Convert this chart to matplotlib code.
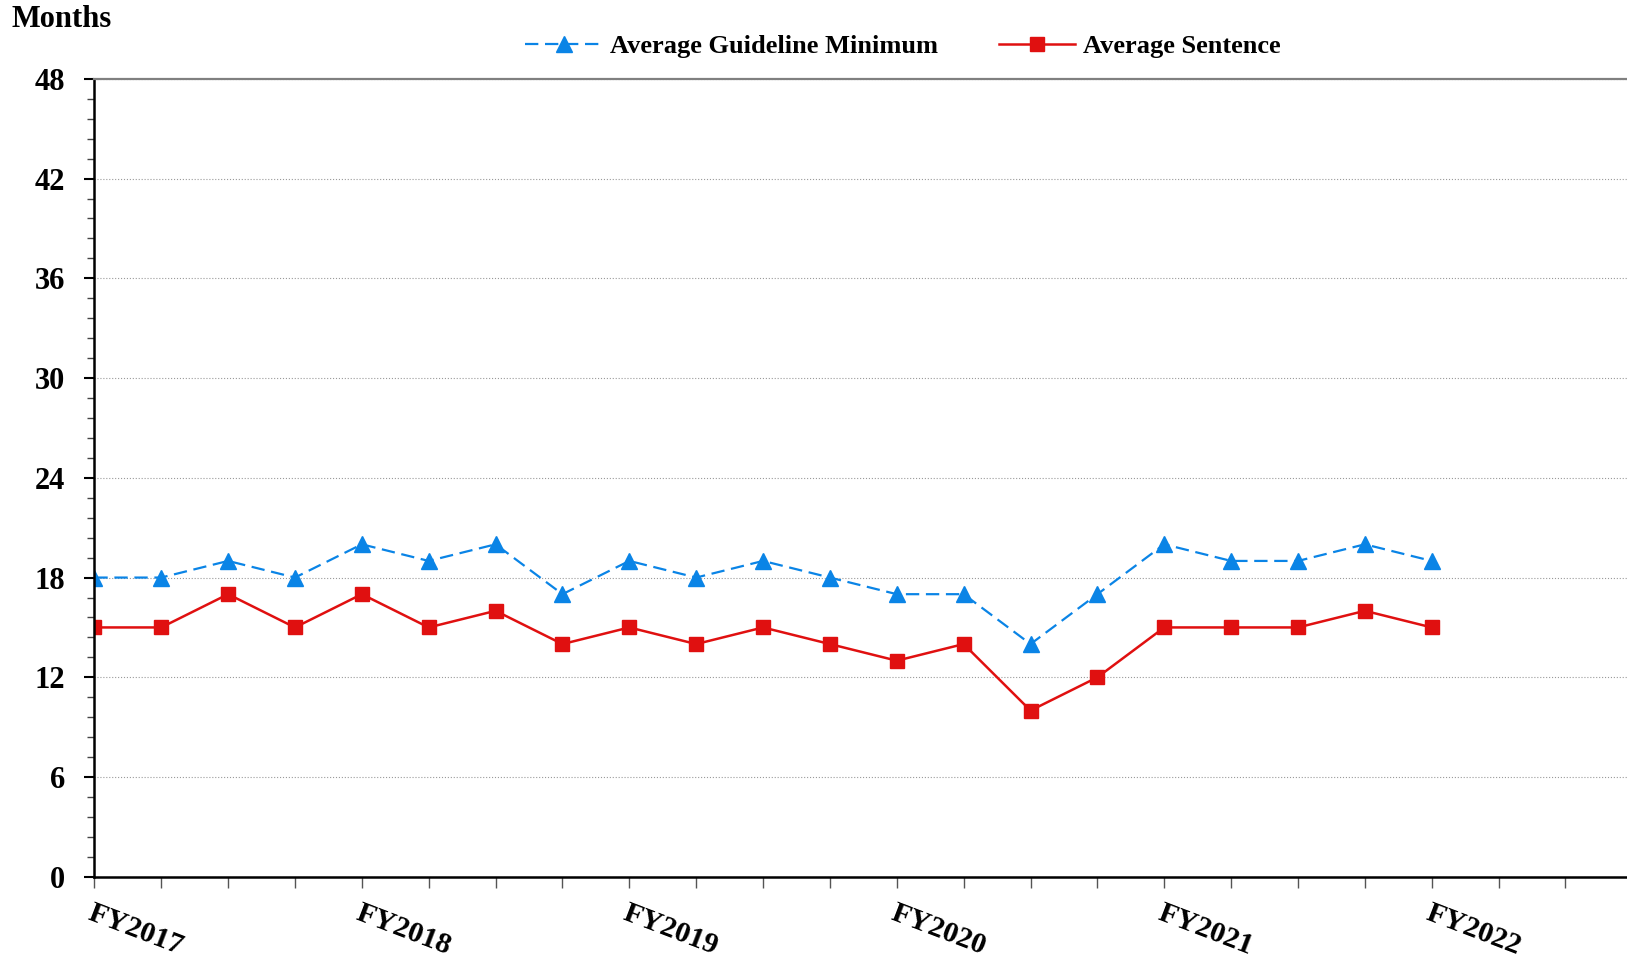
import matplotlib.pyplot as plt
from matplotlib.ticker import MultipleLocator

# quarterly averages, FY2017 Q1 .. FY2022 Q1
quarters = list(range(21))
guideline_min = [18, 18, 19, 18, 20, 19, 20, 17, 19, 18, 19, 18, 17, 17, 14, 17, 20, 19, 19, 20, 19]
avg_sentence = [15, 15, 17, 15, 17, 15, 16, 14, 15, 14, 15, 14, 13, 14, 10, 12, 15, 15, 15, 16, 15]
year_labels = ["FY2017", "FY2018", "FY2019", "FY2020", "FY2021", "FY2022"]
y_ticks = [0, 6, 12, 18, 24, 30, 36, 42, 48]

plt.rcParams['font.family'] = ['Liberation Serif', 'DejaVu Serif']
plt.rcParams['font.weight'] = 'bold'

fig = plt.figure(figsize=(16.27, 9.61), dpi=100)
ax = fig.add_axes([0.058, 0.0876, 0.942, 0.8304])

ax.plot(quarters, guideline_min, color='#0a84e6', lw=1.6, ls=(0, (6, 3)),
        marker='^', ms=12, label='Average Guideline Minimum')
ax.plot(quarters, avg_sentence, color='#e01010', lw=1.8,
        marker='s', ms=9.5, label='Average Sentence')

ax.set_ylim(0, 48)
ax.set_xlim(0, 22.92)
ax.set_yticks(y_ticks)
ax.yaxis.set_minor_locator(MultipleLocator(1.2))
ax.yaxis.grid(True, color='#9a9a9a', ls=':', lw=0.8)

# quarter ticks, label every fourth
xt = list(range(23))
ax.set_xticks(xt)
ax.set_xticklabels([year_labels[i // 4] if i % 4 == 0 else '' for i in xt],
                   rotation=-21, ha='left', va='top', rotation_mode='anchor',
                   fontsize=21.5, fontweight='bold')
ax.tick_params(axis='x', length=8, width=1, color='#555555', pad=8)
ax.tick_params(axis='y', which='major', length=7, width=1.5, labelsize=22, pad=14)
ax.tick_params(axis='y', which='minor', length=5, width=1, color='#444444')
for lab in ax.get_yticklabels():
    lab.set_fontweight('bold')

ax.spines['left'].set_linewidth(1.8)
ax.spines['bottom'].set_linewidth(1.8)
ax.spines['top'].set_color('#808080')
ax.spines['top'].set_linewidth(1.6)
ax.spines['right'].set_visible(False)

fig.text(0.007, 0.98, 'Months', fontsize=22, fontweight='bold', va='center')

fig.legend(loc='center', bbox_to_anchor=(0.555, 0.952), ncol=2, frameon=False,
           handlelength=2.9, columnspacing=2.3, handletextpad=0.3,
           prop={'weight': 'bold', 'size': 19})

fig.savefig('out.png', dpi=100)
